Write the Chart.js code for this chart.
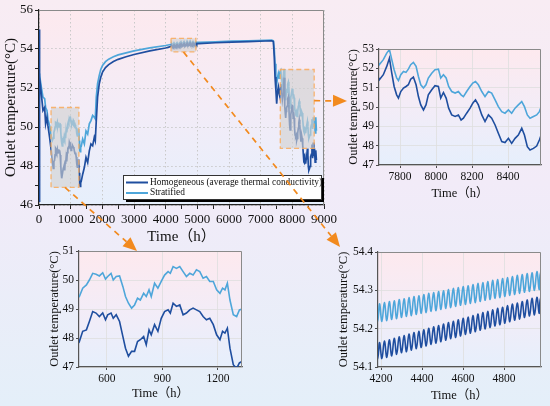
<!DOCTYPE html>
<html>
<head>
<meta charset="utf-8">
<script src="https://cdn.jsdelivr.net/npm/chart.js@4.4.1/dist/chart.umd.min.js"></script>
<style>
html, body { margin: 0; padding: 0; }
body {
  width: 550px; height: 406px; position: relative; overflow: hidden;
  background: linear-gradient(180deg, #f8ecf3 0%, #f2ebf8 45%, #e4eff9 100%);
}
canvas { position: absolute; }
</style>
</head>
<body>
<canvas id="mainChart" width="340" height="250" style="left:0;top:0"></canvas>
<canvas id="lateChart" width="215" height="175" style="left:335px;top:30px"></canvas>
<canvas id="earlyChart" width="210" height="166" style="left:40px;top:240px"></canvas>
<canvas id="midChart" width="220" height="166" style="left:330px;top:240px"></canvas>
<canvas id="overlay" width="550" height="406" style="left:0;top:0;pointer-events:none"></canvas>
<script>
// outlet temperature (°C) vs time (h)
const hoursStart = [0, 5, 31, 73, 125, 178, 209, 251, 282, 335, 387, 418];
const homoStart  = [46.2, 55.0, 52.56, 51.7, 50.85, 51.0, 50.16, 50.5, 50.07, 49.47, 48.78, 48.27];
const stratStart = [52.7, 52.75, 52.65, 52.05, 51.53, 51.45, 51.0, 50.85, 50.4, 50.07, 49.56, 49.3];

const hoursEarly = [452, 470, 490, 506, 524, 542, 560, 578, 593, 605, 623, 635, 651, 669, 687, 701, 717, 734,
  750, 766, 781, 799, 813, 828, 840, 858, 876, 894, 912, 931, 943, 958, 976, 994, 1012, 1030, 1048, 1066,
  1084, 1102, 1120, 1138, 1156, 1175, 1193, 1211, 1225, 1238, 1251, 1265, 1283, 1301, 1316, 1332];
const homoEarly = [47.88, 48.23, 48.28, 48.57, 48.91, 48.86, 48.74, 48.86, 48.63, 48.8, 48.86, 48.68, 48.8,
  48.57, 48.05, 47.65, 47.37, 47.54, 47.54, 47.88, 47.94, 48.05, 47.77, 48.28, 48.11, 48.46, 48.23, 48.68,
  48.91, 48.97, 48.86, 49.2, 49.09, 49.14, 48.8, 48.86, 48.97, 49.03, 48.97, 48.91, 48.74, 48.63, 48.68,
  48.46, 48.11, 47.94, 48.23, 48.17, 48.34, 47.65, 47.08, 46.95, 47.14, 47.2];
const stratEarly = [49.43, 49.72, 49.83, 50.0, 50.23, 50.2, 50.14, 50.25, 50.03, 50.12, 50.23, 50.0, 50.12,
  50.14, 49.77, 49.43, 49.2, 49.03, 49.14, 49.37, 49.31, 49.54, 49.43, 49.66, 49.43, 49.89, 49.72, 49.95,
  50.17, 50.29, 50.23, 50.46, 50.4, 50.46, 50.29, 50.12, 50.23, 50.17, 50.35, 50.29, 50.06, 50.12, 49.95,
  49.95, 49.66, 49.54, 49.72, 49.66, 49.89, 49.31, 48.8, 48.74, 48.97, 49.0];

const hoursRise = [1380, 1432, 1484, 1537, 1589, 1641, 1694, 1746, 1777, 1809, 1850, 1903, 1950, 2007, 2100,
  2200, 2350, 2500, 2750, 3000, 3500, 4000, 4150];
const homoRise = [47.58, 47.92, 48.44, 48.18, 48.78, 49.13, 49.04, 49.47, 49.3, 50.33, 51.53, 52.22, 52.55,
  52.82, 53.05, 53.2, 53.36, 53.47, 53.6, 53.72, 53.9, 54.05, 54.12];
const stratRise = [49.38, 49.13, 49.8, 49.64, 50.16, 50.33, 50.59, 50.5, 50.42, 51.53, 52.22, 52.65, 52.95,
  53.16, 53.35, 53.48, 53.6, 53.7, 53.8, 53.9, 54.06, 54.18, 54.23];

// daily swing around 4200-5000 h
const hoursMid = [4180, 4192, 4204, 4216, 4228, 4240, 4252, 4264, 4276, 4288, 4300, 4312, 4324, 4336, 4348,
  4360, 4372, 4384, 4396, 4408, 4420, 4432, 4444, 4456, 4468, 4480, 4492, 4504, 4516, 4528, 4540, 4552, 4564,
  4576, 4588, 4600, 4612, 4624, 4636, 4648, 4660, 4672, 4684, 4696, 4708, 4720, 4732, 4744, 4756, 4768, 4780,
  4792, 4804, 4816, 4828, 4840, 4852, 4864, 4876, 4888, 4900, 4912, 4924, 4936, 4948, 4960, 4972, 4984];
const homoMid = [54.118, 54.164, 54.122, 54.168, 54.125, 54.171, 54.129, 54.175, 54.133, 54.179, 54.137,
  54.182, 54.140, 54.186, 54.144, 54.190, 54.148, 54.193, 54.151, 54.197, 54.155, 54.201, 54.159, 54.205,
  54.162, 54.208, 54.166, 54.212, 54.170, 54.216, 54.174, 54.219, 54.177, 54.223, 54.181, 54.227, 54.185,
  54.230, 54.188, 54.234, 54.192, 54.238, 54.196, 54.242, 54.199, 54.245, 54.203, 54.249, 54.207, 54.253,
  54.210, 54.256, 54.214, 54.260, 54.218, 54.264, 54.222, 54.267, 54.225, 54.271, 54.229, 54.275, 54.233,
  54.279, 54.236, 54.282, 54.240, 54.286];
const stratMid = [54.216, 54.265, 54.219, 54.268, 54.221, 54.271, 54.224, 54.273, 54.226, 54.276, 54.229,
  54.278, 54.232, 54.281, 54.234, 54.284, 54.237, 54.286, 54.240, 54.289, 54.242, 54.292, 54.245, 54.294,
  54.247, 54.297, 54.250, 54.299, 54.253, 54.302, 54.255, 54.305, 54.258, 54.307, 54.261, 54.310, 54.263,
  54.312, 54.266, 54.315, 54.268, 54.318, 54.271, 54.320, 54.274, 54.323, 54.276, 54.326, 54.279, 54.328,
  54.281, 54.331, 54.284, 54.333, 54.287, 54.336, 54.289, 54.339, 54.292, 54.341, 54.295, 54.344, 54.297,
  54.346, 54.300, 54.349, 54.302, 54.352];

const hoursPlateau = [5050, 5571, 6094, 6617, 7140, 7349, 7401, 7430, 7453, 7480, 7506, 7530, 7558, 7585,
  7610, 7635, 7662];
const homoPlateau = [54.28, 54.32, 54.35, 54.38, 54.41, 54.42, 54.38, 53.6, 52.56, 51.9, 51.19, 51.8, 52.05,
  51.7, 51.53, 52.2, 51.88];
const stratPlateau = [54.34, 54.37, 54.40, 54.42, 54.44, 54.45, 54.42, 54.0, 53.25, 52.6, 52.2, 52.5, 52.74,
  52.5, 52.82, 52.9, 52.56];

const hoursLate = [7685, 7707, 7726, 7741, 7754, 7767, 7781, 7791, 7804, 7819, 7833, 7846, 7859, 7874, 7889,
  7902, 7915, 7930, 7944, 7957, 7976, 7994, 8013, 8026, 8041, 8056, 8070, 8087, 8106, 8124, 8139, 8152, 8170,
  8189, 8204, 8219, 8235, 8254, 8272, 8291, 8309, 8328, 8346, 8365, 8383, 8402, 8420, 8439, 8457, 8476, 8491,
  8507, 8522, 8541, 8559, 8574, 8581];
const homoLate = [51.41, 51.67, 52.1, 52.53, 51.75, 51.06, 50.63, 50.46, 50.8, 50.98, 51.06, 51.15, 51.44,
  51.55, 51.15, 50.54, 50.11, 49.85, 50.11, 50.63, 50.89, 51.1, 51.06, 50.46, 50.75, 50.46, 49.94, 49.59,
  49.51, 49.59, 49.33, 49.42, 49.68, 49.94, 50.2, 50.37, 50.11, 49.59, 49.25, 49.59, 49.42, 49.07, 48.64,
  48.21, 48.16, 48.38, 48.12, 48.38, 48.55, 48.9, 48.55, 47.95, 47.78, 47.86, 47.98, 48.29, 48.47];
const stratLate = [52.19, 52.45, 52.79, 52.97, 52.45, 51.93, 51.5, 51.37, 51.67, 51.84, 51.79, 51.96, 52.19,
  52.31, 52.1, 51.58, 51.15, 50.98, 51.15, 51.5, 51.75, 51.93, 51.96, 51.5, 51.67, 51.5, 51.06, 50.8, 50.72,
  50.8, 50.63, 50.54, 50.8, 51.06, 51.24, 51.32, 51.15, 50.8, 50.54, 50.8, 50.72, 50.37, 50.02, 49.76, 49.68,
  49.85, 49.68, 49.94, 50.11, 50.28, 50.02, 49.59, 49.42, 49.51, 49.59, 49.76, 49.94];

const hoursEnd = [8600, 8620, 8640, 8660, 8680, 8700, 8720, 8740, 8760];
const homoEnd  = [48.6, 49.1, 48.4, 49.2, 48.5, 48.9, 48.2, 48.8, 48.3];
const stratEnd = [50.1, 50.4, 49.9, 50.5, 50.0, 50.3, 49.7, 50.5, 49.8];

// tick labels
const mainXTicks = [0, 500, 1000, 1500, 2000, 2500, 3000, 3500, 4000, 4500, 5000, 5500, 6000, 6500, 7000, 7500, 8000, 8500, 9000];
const mainYTicks = [46, 47, 48, 49, 50, 51, 52, 53, 54, 55, 56];
const lateXTicks = [7800, 8000, 8200, 8400];
const lateYTicks = [47, 48, 49, 50, 51, 52, 53];
const earlyXTicks = [600, 900, 1200];
const earlyYTicks = [47, 48, 49, 50, 51];
const midXTicks = [4200, 4400, 4600, 4800];
const midYTicks = [54.1, 54.2, 54.3, 54.4];

// shaded windows on the main chart (time range, temperature range)
const zoomWindows = [
  { x0: 380, x1: 1260, y0: 46.9, y1: 51.0 },
  { x0: 4170, x1: 4955, y0: 53.85, y1: 54.55 },
  { x0: 7620, x1: 8690, y0: 48.9, y1: 52.95 }
];

const hours = [].concat(hoursStart, hoursEarly, hoursRise, hoursMid, hoursPlateau, hoursLate, hoursEnd);
const homo = [].concat(homoStart, homoEarly, homoRise, homoMid, homoPlateau, homoLate, homoEnd);
const strat = [].concat(stratStart, stratEarly, stratRise, stratMid, stratPlateau, stratLate, stratEnd);

const homoPoints = hours.map((h, i) => ({ x: h, y: homo[i] }));
const stratPoints = hours.map((h, i) => ({ x: h, y: strat[i] }));

const homoColor = '#1f4e9f';
const stratColor = '#4ea6da';
const serif = "'Liberation Serif', 'Noto Sans CJK SC', serif";

const plotBackground = {
  id: 'plotBackground',
  beforeDraw(chart) {
    const { ctx, chartArea: a } = chart;
    const g = ctx.createLinearGradient(0, a.top, 0, a.bottom);
    g.addColorStop(0, '#fde9ee');
    g.addColorStop(0.5, '#f3ecf7');
    g.addColorStop(1, '#e6effc');
    ctx.save();
    ctx.fillStyle = g;
    ctx.fillRect(a.left, a.top, a.right - a.left, a.bottom - a.top);
    ctx.restore();
  },
  afterDraw(chart) {
    const { ctx, chartArea: a } = chart;
    ctx.save();
    ctx.strokeStyle = '#8a8a8a';
    ctx.lineWidth = 1;
    ctx.beginPath();
    ctx.moveTo(a.left, a.top + 0.5);
    ctx.lineTo(a.right - 0.5, a.top + 0.5);
    ctx.lineTo(a.right - 0.5, a.bottom);
    ctx.stroke();
    ctx.restore();
  }
};

const windowBoxes = {
  id: 'windowBoxes',
  afterDatasetsDraw(chart) {
    const { ctx, scales: { x, y } } = chart;
    ctx.save();
    zoomWindows.forEach(w => {
      const l = x.getPixelForValue(w.x0), r = x.getPixelForValue(w.x1);
      const t = y.getPixelForValue(w.y1), b = y.getPixelForValue(w.y0);
      ctx.fillStyle = 'rgba(208,208,208,0.62)';
      ctx.fillRect(l, t, r - l, b - t);
      ctx.setLineDash([5, 3]);
      ctx.strokeStyle = 'rgba(249,170,90,0.85)';
      ctx.lineWidth = 1.3;
      ctx.strokeRect(l, t, r - l, b - t);
    });
    ctx.restore();
  }
};

const boxedLegend = {
  id: 'boxedLegend',
  afterDraw(chart) {
    const ctx = chart.ctx;
    const left = 123, top = 175, w = 198, h = 24;
    ctx.save();
    ctx.fillStyle = '#000';
    ctx.fillRect(left + 3, top + 3, w, h);
    ctx.fillStyle = '#fff';
    ctx.fillRect(left, top, w, h);
    ctx.strokeStyle = '#333';
    ctx.lineWidth = 1;
    ctx.strokeRect(left + 0.5, top + 0.5, w, h);
    ctx.font = '9.4px ' + serif;
    ctx.textBaseline = 'middle';
    chart.data.datasets.forEach((ds, i) => {
      const yy = top + 7.5 + i * 10.5;
      ctx.strokeStyle = ds.borderColor;
      ctx.lineWidth = 2;
      ctx.beginPath();
      ctx.moveTo(left + 3, yy);
      ctx.lineTo(left + 25, yy);
      ctx.stroke();
      ctx.fillStyle = '#111';
      ctx.fillText(ds.label, left + 27, yy);
    });
    ctx.restore();
  }
};

function makeChart(id, o) {
  const isMajorX = v => o.xMajor ? o.xMajor(v) : true;
  const isMajorY = v => o.yMajor ? o.yMajor(v) : true;
  return new Chart(document.getElementById(id), {
    type: 'line',
    data: {
      datasets: [
        { label: 'Homogeneous (average thermal conductivity)', data: homoPoints, borderColor: homoColor,
          borderWidth: o.lw, pointRadius: 0, tension: o.tension || 0, fill: false },
        { label: 'Stratified', data: stratPoints, borderColor: stratColor,
          borderWidth: o.lw, pointRadius: 0, tension: o.tension || 0, fill: false }
      ]
    },
    options: {
      responsive: false,
      animation: false,
      events: [],
      layout: { padding: { top: o.padTop, right: o.padRight, left: 0, bottom: 0 } },
      plugins: { legend: { display: false }, tooltip: { enabled: false } },
      scales: {
        x: {
          type: 'linear', min: o.xMin, max: o.xMax,
          afterBuildTicks: s => { s.ticks = o.xTicks.map(v => ({ value: v })); },
          afterFit: s => { s.height = o.xHeight; },
          ticks: {
            autoSkip: false, maxRotation: 0, color: '#111', padding: o.tickPad,
            font: { family: serif, size: o.tickSize },
            callback: v => isMajorX(v) ? String(v) : ''
          },
          grid: {
            color: c => (c.tick && isMajorX(c.tick.value)) ? o.gridColor : 'rgba(0,0,0,0)',
            tickColor: '#222', tickLength: o.tickLen, lineWidth: o.gridWidth
          },
          border: { color: o.axisColor, width: 1.2, dash: o.gridDash },
          title: { display: true, text: 'Time（h）', color: '#111',
            font: { family: serif, size: o.titleSize }, padding: { top: 0, bottom: o.xTitlePad } }
        },
        y: {
          min: o.yMin, max: o.yMax,
          afterBuildTicks: s => { s.ticks = o.yTicks.map(v => ({ value: v })); },
          afterFit: s => { s.width = o.yWidth; },
          ticks: {
            autoSkip: false, color: '#111', padding: 2,
            font: { family: serif, size: o.tickSize },
            callback: v => isMajorY(v) ? o.yFmt(v) : ''
          },
          grid: {
            color: c => (c.tick && isMajorY(c.tick.value)) ? o.gridColor : 'rgba(0,0,0,0)',
            tickColor: '#222', tickLength: o.tickLen, lineWidth: o.gridWidth
          },
          border: { color: o.axisColor, width: 1.2, dash: o.gridDash },
          title: { display: true, text: 'Outlet temperature(°C)', color: '#111',
            font: { family: serif, size: o.titleSize }, padding: { top: o.yTitlePad, bottom: 0 } }
        }
      }
    },
    plugins: o.plugins
  });
}

const mainChart = makeChart('mainChart', {
  lw: 1.7, padTop: 10, padRight: 14, xHeight: 45, yWidth: 39,
  xMin: 0, xMax: 9000, yMin: 46, yMax: 56, xTicks: mainXTicks, yTicks: mainYTicks,
  xMajor: v => v % 1000 === 0, yMajor: v => v % 2 === 0, yFmt: v => String(v),
  tickSize: 13, titleSize: 15, tickPad: 3, tickLen: 4, xTitlePad: 4, yTitlePad: 2,
  gridColor: '#c9c9c9', gridWidth: 1, gridDash: [1.5, 2.5], axisColor: '#222',
  plugins: [plotBackground, windowBoxes, boxedLegend]
});

const insetStyle = {
  lw: 1.6, tickSize: 11.5, titleSize: 12.5, tickPad: 2, tickLen: 3,
  gridColor: '#dedede', gridWidth: 0.8, gridDash: [], axisColor: '#555',
  plugins: [plotBackground]
};

makeChart('lateChart', Object.assign({}, insetStyle, {
  padTop: 19, padRight: 9, xHeight: 40, yWidth: 44, xTitlePad: 4, yTitlePad: 11,
  xMin: 7683, xMax: 8583, yMin: 47, yMax: 53, xTicks: lateXTicks, yTicks: lateYTicks, yFmt: v => String(v)
}));

makeChart('earlyChart', Object.assign({}, insetStyle, {
  padTop: 11, padRight: 8, xHeight: 39, yWidth: 39, xTitlePad: 5, yTitlePad: 7,
  xMin: 450, xMax: 1330, yMin: 47, yMax: 51, xTicks: earlyXTicks, yTicks: earlyYTicks, yFmt: v => String(v)
}));

makeChart('midChart', Object.assign({}, insetStyle, {
  padTop: 12, padRight: 9, xHeight: 39, yWidth: 48, xTitlePad: 3, yTitlePad: 6, tension: 0.4,
  xMin: 4185, xMax: 4980, yMin: 54.1, yMax: 54.4, xTicks: midXTicks, yTicks: midYTicks,
  yFmt: v => v.toFixed(1)
}));

// dashed orange leaders from the shaded windows to the zoomed panels
const ov = document.getElementById('overlay').getContext('2d');
const mx = mainChart.scales.x, my = mainChart.scales.y;

function leader(x1, y1, x2, y2) {
  const ang = Math.atan2(y2 - y1, x2 - x1);
  const head = 14, half = 6;
  const bx = x2 - head * Math.cos(ang), by = y2 - head * Math.sin(ang);
  ov.save();
  ov.strokeStyle = '#f28a1e';
  ov.lineWidth = 1.7;
  ov.setLineDash([6, 5]);
  ov.beginPath();
  ov.moveTo(x1, y1);
  ov.lineTo(bx, by);
  ov.stroke();
  ov.setLineDash([]);
  ov.fillStyle = '#f28a1e';
  ov.beginPath();
  ov.moveTo(x2, y2);
  ov.lineTo(bx + half * Math.sin(ang), by - half * Math.cos(ang));
  ov.lineTo(bx - half * Math.sin(ang), by + half * Math.cos(ang));
  ov.closePath();
  ov.fill();
  ov.restore();
}

const w0 = zoomWindows[0], w1 = zoomWindows[1], w2 = zoomWindows[2];
leader(mx.getPixelForValue((w0.x0 + w0.x1) / 2), my.getPixelForValue(w0.y0), 137, 251);
leader(mx.getPixelForValue((w1.x0 + w1.x1) / 2), my.getPixelForValue(w1.y0), 340, 247);
leader(mx.getPixelForValue(w2.x1), my.getPixelForValue(51.35), 347, 101);
</script>
</body>
</html>
